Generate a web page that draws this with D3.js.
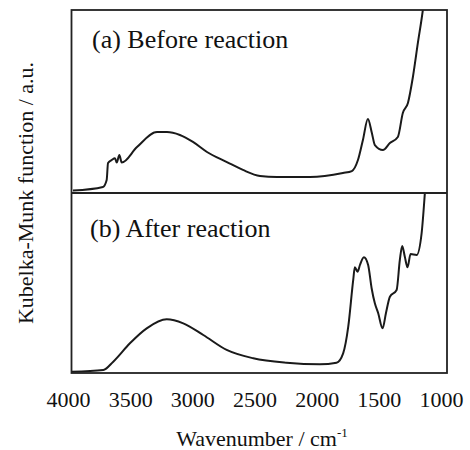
<!DOCTYPE html>
<html>
<head>
<meta charset="utf-8">
<script src="https://cdn.jsdelivr.net/npm/d3@7"></script>
<style>
  body { margin: 0; background: #fff; }
  text { font-family: "Liberation Serif", "Times New Roman", serif; fill: #111; }
</style>
</head>
<body>
<div id="chart"></div>
<script>
// Wavenumbers (cm-1) and Kubelka-Munk values (a.u., 0-100 per panel)
const beforeWave = [3960, 3719, 3689, 3678, 3649, 3622, 3608, 3587, 3568, 3445, 3284, 3204, 3100, 2995, 2882,
    2722, 2593, 2456, 2320, 2054, 1789, 1717, 1668, 1628, 1588, 1556, 1532, 1467, 1411, 1347, 1307, 1266,
    1226, 1186, 1146, 1120];
const beforeKM = [1.3, 3.3, 7.1, 16.4, 18.0, 19.0, 16.6, 20.8, 16.6, 25.1, 33.3, 33.3, 31.7, 27.9, 22.4,
    16.9, 12.6, 9.3, 8.7, 8.7, 10.9, 12.0, 18.0, 29.0, 40.4, 32.8, 26.2, 23.5, 27.3, 30.6, 43.7, 49.2,
    63.4, 82.0, 100, 115];

const afterWave = [3970, 3716, 3636, 3502, 3367, 3206, 3073, 2912, 2724, 2510, 2242, 1974, 1840, 1787, 1746,
    1706, 1693, 1671, 1652, 1620, 1586, 1558, 1532, 1505, 1470, 1443, 1411, 1357, 1331, 1312, 1291, 1269,
    1245, 1196, 1156, 1130, 1115];
const afterKM = [0.7, 1.7, 6.3, 16.5, 24.8, 29.8, 27.6, 21.1, 12.8, 8.2, 5.7, 4.8, 5.7, 10.9, 25.7,
    51.7, 58.7, 56.3, 60.0, 64.3, 60.0, 47.1, 38.7, 33.2, 24.8, 33.2, 42.4, 46.1, 62.8, 70.6, 64.6, 58.7,
    66.1, 65.6, 77.6, 99.8, 115];

const xTicks = [4000, 3500, 3000, 2500, 2000, 1500, 1000];
const panelLabels = ["(a) Before reaction", "(b) After reaction"];

const width = 470, height = 450;
const frame = { left: 71.5, right: 447, top: 10, bottom: 373, split: 193 };

const svg = d3.select('#chart')
    .append('svg')
    .attr('width', width)
    .attr('height', height);

// x scale: tick labels sit slightly inside the frame edges
const xScale = d3.scaleLinear()
    .domain([4000, 1000])
    .range([68, 441]);

const panels = [
    { top: frame.top, bottom: frame.split, wave: beforeWave, km: beforeKM, label: panelLabels[0], lx: 92, ly: 48 },
    { top: frame.split, bottom: frame.bottom, wave: afterWave, km: afterKM, label: panelLabels[1], lx: 90, ly: 237 }
];

panels.forEach((p, i) => {
    const yScale = d3.scaleLinear()
        .domain([0, 100])
        .range([p.bottom, p.top]);

    svg.append('clipPath')
        .attr('id', `clip-${i}`)
        .append('rect')
        .attr('x', frame.left)
        .attr('y', p.top)
        .attr('width', frame.right - frame.left)
        .attr('height', p.bottom - p.top);

    const line = d3.line()
        .x(d => xScale(d[0]))
        .y(d => yScale(d[1]))
        .curve(d3.curveMonotoneX);

    svg.append('path')
        .datum(d3.zip(p.wave, p.km))
        .attr('clip-path', `url(#clip-${i})`)
        .attr('fill', 'none')
        .attr('stroke', '#1a1a1a')
        .attr('stroke-width', 2)
        .attr('stroke-linejoin', 'round')
        .attr('d', line);

    svg.append('text')
        .attr('x', p.lx)
        .attr('y', p.ly)
        .style('font-size', '26px')
        .text(p.label);
});

// Frame and divider
svg.append('rect')
    .attr('x', frame.left)
    .attr('y', frame.top)
    .attr('width', frame.right - frame.left)
    .attr('height', frame.bottom - frame.top)
    .attr('fill', 'none')
    .attr('stroke', '#222')
    .attr('stroke-width', 1.8);

svg.append('line')
    .attr('x1', frame.left)
    .attr('x2', frame.right)
    .attr('y1', frame.split)
    .attr('y2', frame.split)
    .attr('stroke', '#222')
    .attr('stroke-width', 1.8);

// X axis labels only (no tick marks in the original)
const xAxis = d3.axisBottom(xScale)
    .tickValues(xTicks)
    .tickSize(0)
    .tickFormat(d3.format('d'));

const gx = svg.append('g')
    .attr('transform', `translate(0,${frame.bottom})`)
    .call(xAxis);
gx.select('.domain').remove();
gx.selectAll('text')
    .attr('y', 34)
    .attr('dy', 0)
    .style('font-family', '"Liberation Serif", serif')
    .style('font-size', '22px')
    .attr('fill', '#111');

// X axis title
const xt = svg.append('text')
    .attr('x', 262)
    .attr('y', 446)
    .attr('text-anchor', 'middle')
    .style('font-size', '22px');
xt.append('tspan').text('Wavenumber / cm');
xt.append('tspan')
    .attr('dy', -9)
    .style('font-size', '13px')
    .text('-1');

// Y axis title
svg.append('text')
    .attr('transform', 'rotate(-90)')
    .attr('x', -193)
    .attr('y', 33)
    .attr('text-anchor', 'middle')
    .style('font-size', '22px')
    .text('Kubelka-Munk function / a.u.');
</script>
</body>
</html>
